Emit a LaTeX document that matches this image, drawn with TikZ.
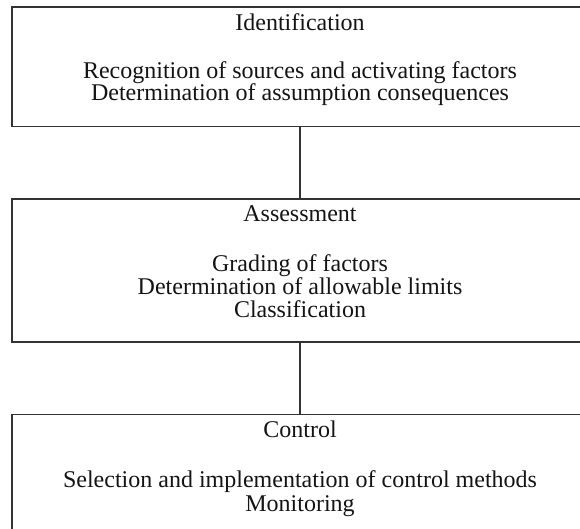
\documentclass[tikz,border=0pt]{standalone}
\usepackage{fontspec}
\setmainfont{Liberation Serif}
\begin{document}
\begin{tikzpicture}[x=1bp,y=-1bp,
  boxstyle/.style={draw=black!80,line width=1.1bp,rectangle,inner sep=0pt,minimum width=576bp},
  txt/.style={anchor=base,inner sep=0pt,text=black!92,font=\fontsize{24bp}{28bp}\selectfont},
  link/.style={draw=black!80,line width=1.1bp}]
\useasboundingbox (0,0) rectangle (580,529);
\clip (0,0) rectangle (580,529);
\node[boxstyle,minimum height=119.5bp] (b1) at (300,66.75) {};
\node[boxstyle,minimum height=143bp] (b2) at (300,270.5) {};
\node[boxstyle,minimum height=130bp] (b3) at (300,479.5) {};
\node[txt] (t1) at (300,31) {Identification};
\node[txt] (t1a) at (300,78.5) {Recognition of sources and activating factors};
\node[txt] (t1b) at (300,100.5) {Determination of assumption consequences};
\node[txt] (t2) at (300,222) {Assessment};
\node[txt] (t2a) at (300,271.5) {Grading of factors};
\node[txt] (t2b) at (300,294.5) {Determination of allowable limits};
\node[txt] (t2c) at (300,317.5) {Classification};
\node[txt] (t3) at (300,437.5) {Control};
\node[txt] (t3a) at (300,487.5) {Selection and implementation of control methods};
\node[txt] (t3b) at (300,511) {Monitoring};
\draw[link] (b1.south) -- (b2.north);
\draw[link] (b2.south) -- (b3.north);
\end{tikzpicture}
\end{document}
